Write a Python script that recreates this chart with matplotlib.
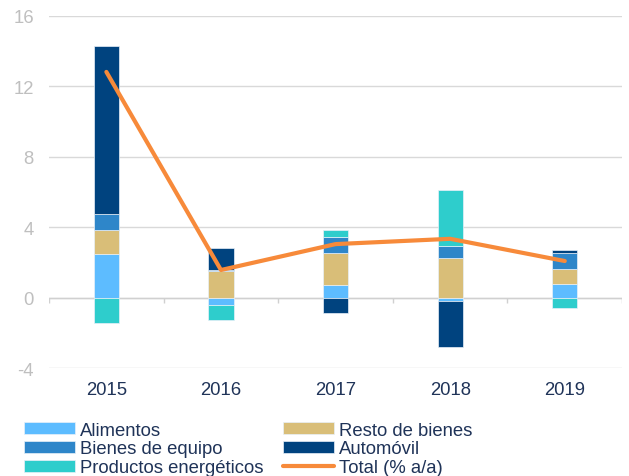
import numpy as np
import matplotlib
matplotlib.use("Agg")
from matplotlib import pyplot as plt

plt.rcParams['font.family'] = ['Liberation Sans', 'DejaVu Sans']
plt.rcParams['axes.unicode_minus'] = False

years = ['2015', '2016', '2017', '2018', '2019']
alimentos = [2.45, -0.45, 0.70, -0.19, 0.78]
resto = [1.37, 1.50, 1.85, 2.25, 0.86]
bienes = [0.90, 0.05, 0.90, 0.68, 0.91]
automovil = [9.55, 1.28, -0.87, -2.63, 0.12]
energeticos = [-1.43, -0.80, 0.38, 3.18, -0.60]
total = [12.8, 1.56, 3.03, 3.33, 2.07]

series = [
    ('Alimentos', alimentos, '#5DBCFF'),
    ('Resto de bienes', resto, '#D9BE78'),
    ('Bienes de equipo', bienes, '#2E86C9'),
    ('Automóvil', automovil, '#00437F'),
    ('Productos energéticos', energeticos, '#2ECDCC'),
]

fig = plt.figure(figsize=(6.29, 4.77), dpi=100)
ax = fig.add_axes([0.078, 0.2264, 0.911, 0.739])

x = np.arange(len(years))
pos_base = np.zeros(len(years))
neg_base = np.zeros(len(years))
handles = {}
for name, vals, col in series:
    vals = np.array(vals)
    base = np.where(vals >= 0, pos_base, neg_base)
    b = ax.bar(x, vals, 0.22, bottom=base, color=col, edgecolor='#E8F0F8',
               linewidth=0.5, label=name, zorder=3)
    handles[name] = b
    pos_base = pos_base + np.where(vals >= 0, vals, 0)
    neg_base = neg_base + np.where(vals < 0, vals, 0)

ln, = ax.plot(x, total, color='#F78A3A', lw=3, label='Total (% a/a)', zorder=4,
              solid_capstyle='round')

ax.set_xlim(-0.5, 4.5)
ax.set_ylim(-4, 16)
ax.set_yticks([-4, 0, 4, 8, 12, 16])
ax.yaxis.grid(True, color='#D9D9D9', lw=1)
ax.set_axisbelow(True)
for s in ax.spines.values():
    s.set_visible(False)
ax.axhline(0, color='#D0D0D0', lw=1, zorder=2)
ax.vlines(np.arange(-0.5, 5.0, 1.0), -0.3, 0, color='#D0D0D0', lw=1, zorder=2)
ax.set_xticks(x)
ax.set_xticklabels(years)
ax.tick_params(axis='x', length=0, pad=9, labelsize=13.3, labelcolor='#1F3358')
ax.tick_params(axis='y', length=0, pad=11, labelsize=13.3, labelcolor='#BFBFBF')

order = ['Alimentos', 'Bienes de equipo', 'Productos energéticos',
         'Resto de bienes', 'Automóvil']
hl = [handles[n] for n in order] + [ln]
labels = order + ['Total (% a/a)']
leg = fig.legend(hl, labels, ncol=2, loc='upper left', bbox_to_anchor=(0.038, 0.114),
                 frameon=False, fontsize=13.3, handlelength=2.75, handleheight=0.6,
                 handletextpad=0.28, columnspacing=1.08, labelspacing=0.1,
                 borderpad=0, borderaxespad=0)
for t in leg.get_texts():
    t.set_color('#1F3358')

fig.savefig('out.png', dpi=100)
